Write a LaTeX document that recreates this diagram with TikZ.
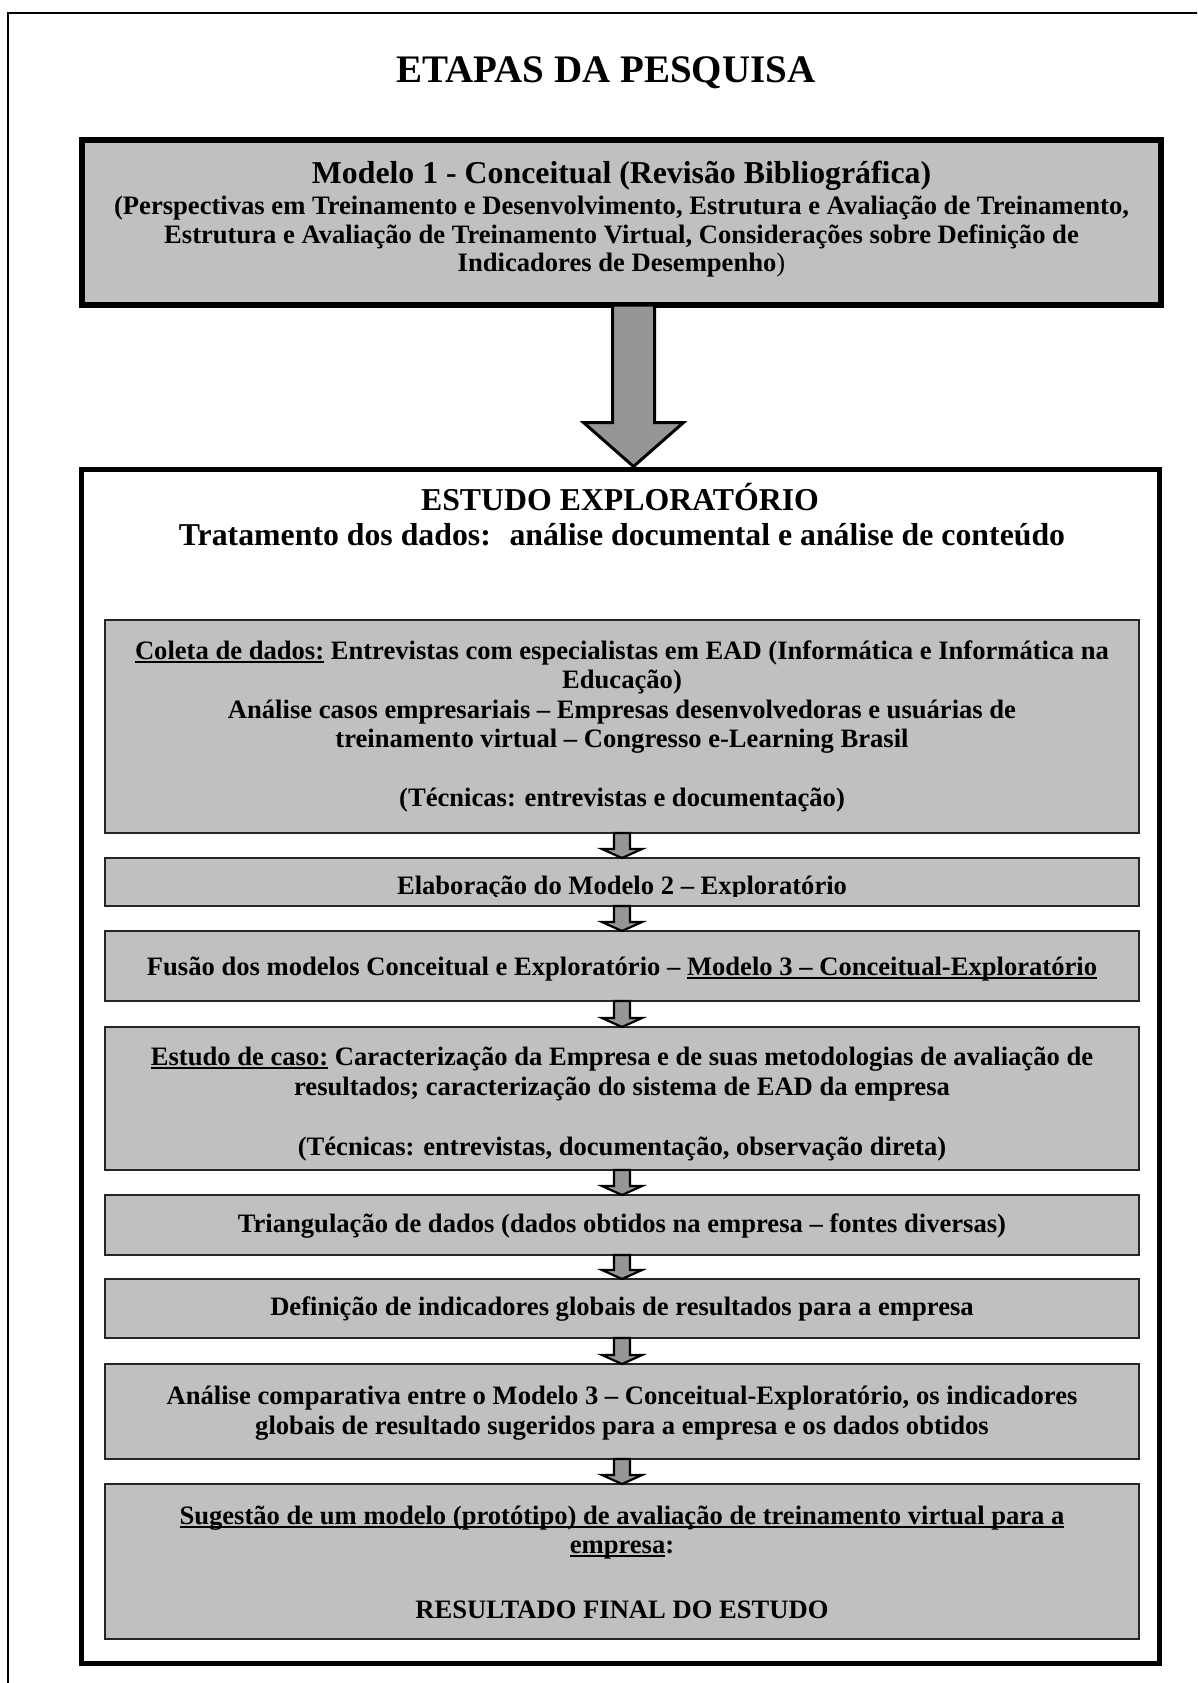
\documentclass[tikz,border=0pt]{standalone}
\usepackage{fontspec}
\setmainfont{Liberation Serif}
\usetikzlibrary{calc}
\definecolor{boxgray}{HTML}{C0C0C0}
\definecolor{arrowgray}{HTML}{969696}
\newcommand\myul[1]{\setbox0\hbox{#1}\rlap{\rule[-4pt]{\wd0}{2pt}}\box0\relax}
\newcommand\titlefont{\fontsize{39}{44}\selectfont\bfseries}
\newcommand\headfont{\fontsize{31.8}{36}\selectfont\bfseries}
\newcommand\bodyfont{\fontsize{26.6}{30}\selectfont\bfseries}
\tikzset{
  modelbox/.style={rectangle, draw=black, line width=6, fill=boxgray, inner sep=0, outer sep=0},
  bigbox/.style={rectangle, draw=black, line width=5, fill=white, inner sep=0, outer sep=0},
  stepbox/.style={rectangle, draw=black!85, line width=2, fill=boxgray, inner sep=0, outer sep=0, minimum width=1034},
  txt/.style={inner sep=0, outer sep=0, anchor=base, font=\bodyfont},
  bigarrow/.style={draw=black, line width=3, fill=arrowgray, line join=miter},
  smallarrow/.style={draw=black, line width=2.2, fill=arrowgray, line join=miter},
}
\newcommand\smallconn[2]{%
  \filldraw[smallarrow] ($(#1.south)+(-8,0)$) -- ($(#2.north)+(-8,-9)$) -- ($(#2.north)+(-20,-9)$)
    -- (#2.north) -- ($(#2.north)+(20,-9)$) -- ($(#2.north)+(8,-9)$) -- ($(#1.south)+(8,0)$) -- cycle;}
\begin{document}
\begin{tikzpicture}[x=1pt,y=-1pt]
\useasboundingbox (0,0) rectangle (1197,1683);
\clip (0,0) rectangle (1197,1683);
\fill[white] (0,0) rectangle (1197,1683);
% outer frame (right and bottom edges fall outside the picture)
\draw[line width=2] (7.5,13) rectangle (1230,1720);

\node[txt, font=\titlefont] (title) at (606,83) {ETAPAS DA PESQUISA};

% Modelo 1
\node[modelbox, minimum width=1079, minimum height=165] (model1) at (621.5,222.5) {};
\node[txt, font=\headfont] (m1a) at (621.5,183) {Modelo 1 - Conceitual (Revisão Bibliográfica)};
\node[txt] (m1b) at (621.5,214) {(Perspectivas em Treinamento e Desenvolvimento, Estrutura e Avaliação de Treinamento,};
\node[txt] (m1c) at (621.5,243) {Estrutura e Avaliação de Treinamento Virtual, Considerações sobre Definição de};
\node[txt] (m1d) at (621.5,271) {Indicadores de Desempenho{\mdseries )}};

% Estudo exploratorio frame
\node[bigbox, minimum width=1078, minimum height=1194] (estudo) at (620.5,1066.5) {};
\node[txt, font=\headfont] (e1) at (620,510) {ESTUDO EXPLORATÓRIO};
\node[txt, font=\headfont] (e2) at (622,545) {Tratamento dos dados:~ análise documental e análise de conteúdo};

% big arrow
\coordinate (bt) at ($(model1.south)+(12,0)$);
\coordinate (btip) at ($(bt |- estudo.north)+(0,-3)$);
\filldraw[bigarrow] ($(bt)+(-21,0)$) -- ($(btip)+(-21,-44)$) -- ($(btip)+(-50,-44)$) -- (btip)
  -- ($(btip)+(50,-44)$) -- ($(btip)+(21,-44)$) -- ($(bt)+(21,0)$) -- cycle;

% steps
\node[stepbox, minimum height=213] (coleta) at (622,726.5) {};
\node[txt] (c1) at (622,659) {\myul{Coleta de dados:} Entrevistas com especialistas em EAD (Informática e Informática na};
\node[txt] (c2) at (622,688.5) {Educação)};
\node[txt] (c3) at (622,718) {Análise casos empresariais – Empresas desenvolvedoras e usuárias de};
\node[txt] (c4) at (622,747.5) {treinamento virtual – Congresso e-Learning Brasil};
\node[txt] (c5) at (622,806.5) {(Técnicas: entrevistas e documentação)};

\node[stepbox, minimum height=48] (elab) at (622,882) {};
\begin{scope}
\clip (104,850) rectangle (1140,896);
\node[txt] (el1) at (622,894) {Elaboração do Modelo 2 – Exploratório};
\end{scope}

\node[stepbox, minimum height=70] (fusao) at (622,966) {};
\node[txt] (f1) at (622,975) {Fusão dos modelos Conceitual e Exploratório – \myul{Modelo 3 – Conceitual-Exploratório}};

\node[stepbox, minimum height=143] (caso) at (622,1098.5) {};
\node[txt] (k1) at (622,1065) {\myul{Estudo de caso:} Caracterização da Empresa e de suas metodologias de avaliação de};
\node[txt] (k2) at (622,1095) {resultados; caracterização do sistema de EAD da empresa};
\node[txt] (k3) at (622,1155) {(Técnicas: entrevistas, documentação, observação direta)};

\node[stepbox, minimum height=60] (triang) at (622,1225) {};
\node[txt] (t1) at (622,1232) {Triangulação de dados (dados obtidos na empresa – fontes diversas)};

\node[stepbox, minimum height=59] (defin) at (622,1308.5) {};
\node[txt] (d1) at (622,1315) {Definição de indicadores globais de resultados para a empresa};

\node[stepbox, minimum height=95] (analise) at (622,1411.5) {};
\node[txt] (a1) at (622,1404) {Análise comparativa entre o Modelo 3 – Conceitual-Exploratório, os indicadores};
\node[txt] (a2) at (622,1434) {globais de resultado sugeridos para a empresa e os dados obtidos};

\node[stepbox, minimum height=155] (sugest) at (622,1561.5) {};
\node[txt] (s1) at (622,1524) {\myul{Sugestão de um modelo (protótipo) de avaliação de treinamento virtual para a}};
\node[txt] (s2) at (622,1553) {\myul{empresa}:};
\node[txt] (s3) at (622,1618) {RESULTADO FINAL DO ESTUDO};

% small arrows
\smallconn{coleta}{elab}
\smallconn{elab}{fusao}
\smallconn{fusao}{caso}
\smallconn{caso}{triang}
\smallconn{triang}{defin}
\smallconn{defin}{analise}
\smallconn{analise}{sugest}
\end{tikzpicture}
\end{document}
